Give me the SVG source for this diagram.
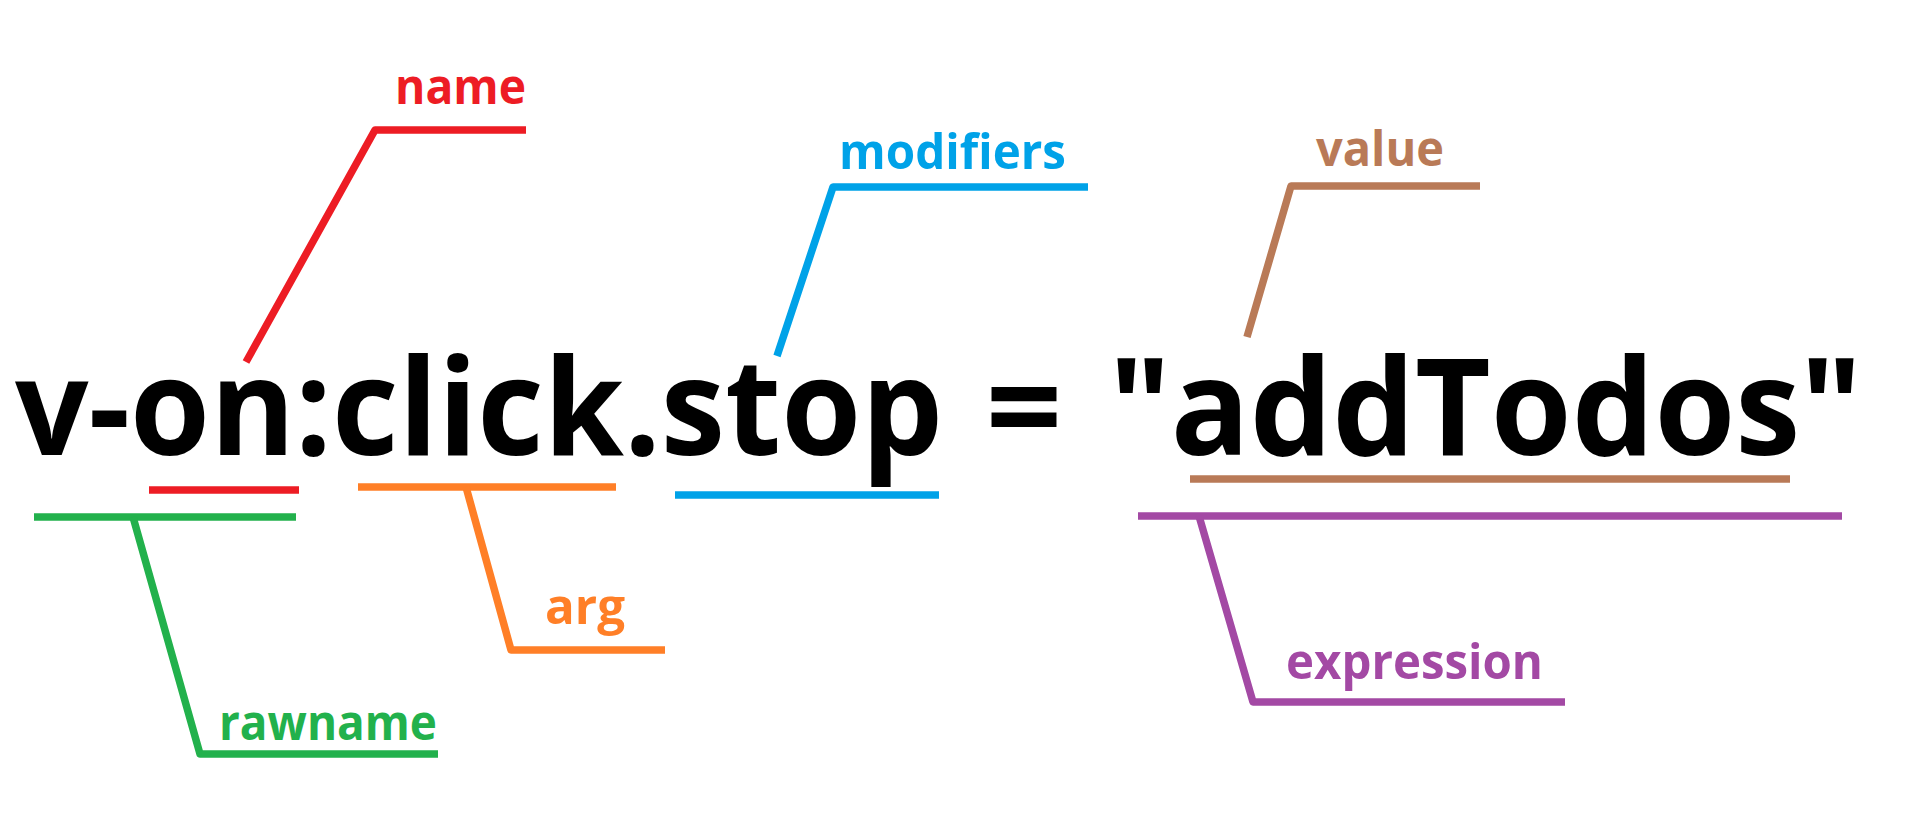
<svg xmlns="http://www.w3.org/2000/svg" width="1913" height="816" viewBox="0 0 1913 816">
<style>
.main{font-family:"Open Sans","Noto Sans","DejaVu Sans",sans-serif;font-weight:bold;font-size:134px;fill:#000}
.lbl{font-family:"Open Sans","Noto Sans","DejaVu Sans",sans-serif;font-weight:bold;font-size:49px}
.ln{fill:none;stroke-width:7.5;stroke-linejoin:round;stroke-linecap:butt}
.red{stroke:#ED1C24}.green{stroke:#22B14C}.orange{stroke:#FF7F27}.blue{stroke:#00A2E8}.brown{stroke:#B97A57}.purple{stroke:#A349A4}
</style>
<rect width="1913" height="816" fill="#fff"/>
<g id="connectors">
<path class="ln red" d="M149 490H299"/>
<path class="ln red" d="M246 362L375 130H526"/>
<path class="ln green" d="M34 517H296"/>
<path class="ln green" d="M133 517L200 754H438"/>
<path class="ln orange" d="M358 487H616"/>
<path class="ln orange" d="M466 487L511 650H665"/>
<path class="ln blue" d="M675 495H939"/>
<path class="ln blue" d="M777 356L833 187H1088"/>
<path class="ln brown" d="M1190 479H1790"/>
<path class="ln brown" d="M1247 337L1291 186H1480"/>
<path class="ln purple" d="M1138 516H1842"/>
<path class="ln purple" d="M1199 516L1253 702H1565"/>
</g>
<g id="directive"><text class="main" x="15" y="455" textLength="928" lengthAdjust="spacingAndGlyphs">v-on:click.stop</text></g>
<g id="equals"><text class="main" x="1024" y="455" text-anchor="middle">=</text></g>
<g id="expressionText"><text class="main" x="1109" y="455" textLength="753" lengthAdjust="spacingAndGlyphs">"addTodos"</text></g>
<g id="name"><text class="lbl" x="395" y="104" fill="#ED1C24" textLength="131" lengthAdjust="spacingAndGlyphs">name</text></g>
<g id="modifiers"><text class="lbl" x="839" y="169" fill="#00A2E8" textLength="227" lengthAdjust="spacingAndGlyphs">modifiers</text></g>
<g id="value"><text class="lbl" x="1316" y="166" fill="#B97A57" textLength="128" lengthAdjust="spacingAndGlyphs">value</text></g>
<g id="arg"><text class="lbl" x="545" y="624" fill="#FF7F27" textLength="80" lengthAdjust="spacingAndGlyphs">arg</text></g>
<g id="rawname"><text class="lbl" x="219" y="740" fill="#22B14C" textLength="218" lengthAdjust="spacingAndGlyphs">rawname</text></g>
<g id="expression"><text class="lbl" x="1286" y="679" fill="#A349A4" textLength="257" lengthAdjust="spacingAndGlyphs">expression</text></g>
</svg>
